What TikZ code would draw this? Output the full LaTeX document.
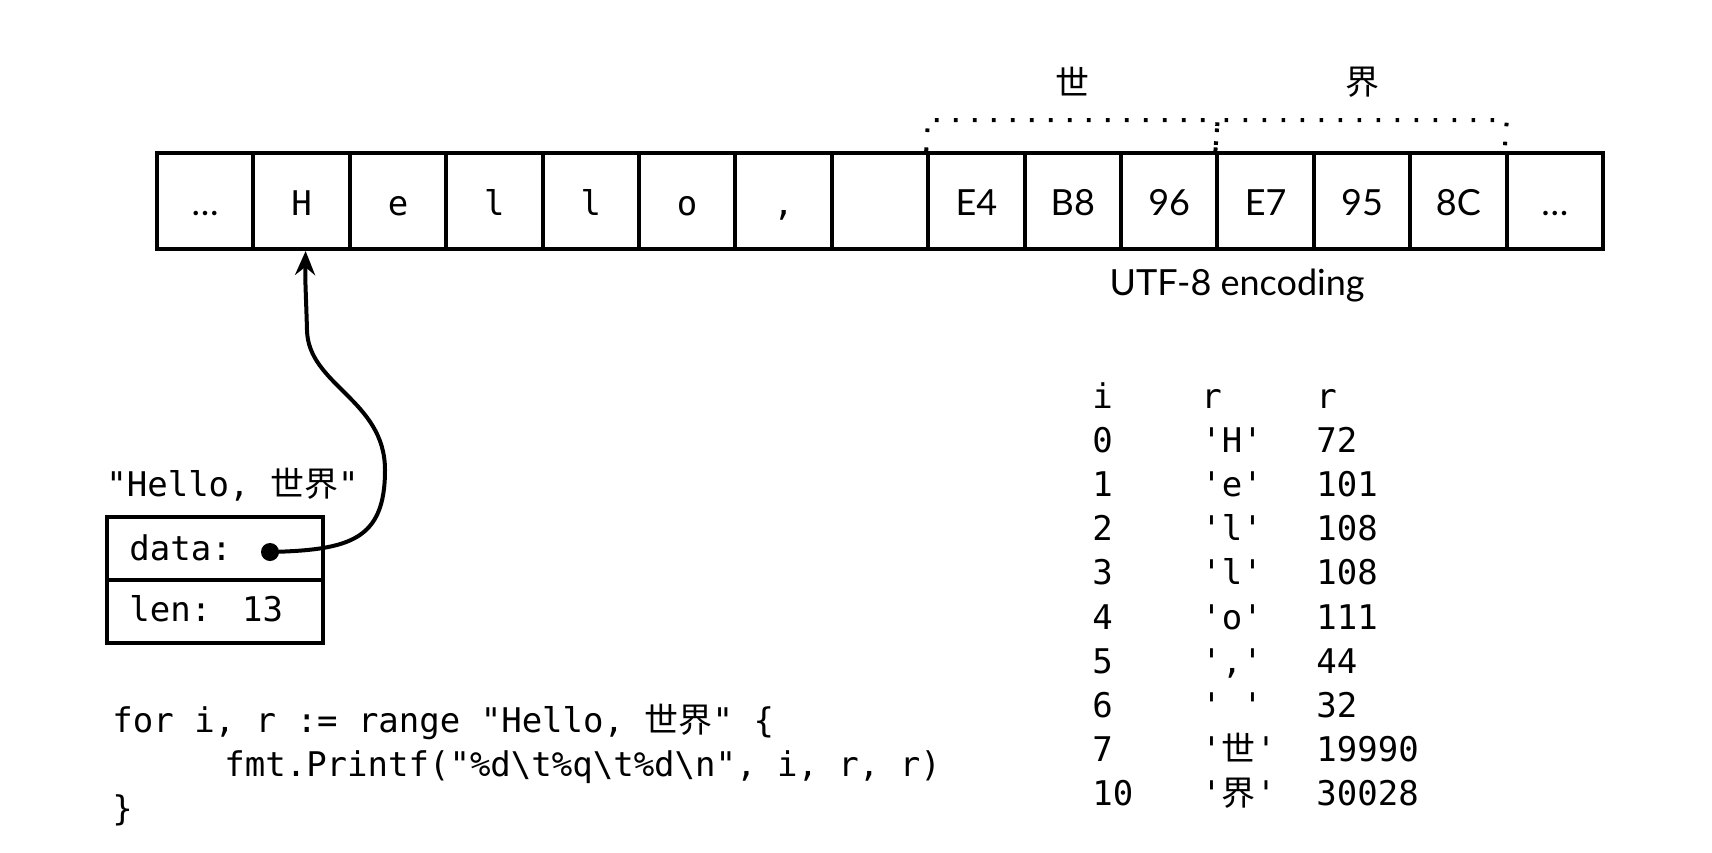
\documentclass[tikz,border=0pt]{standalone}
\usepackage{fontspec}
\setmainfont{Lato}
\setmonofont{DejaVu Sans Mono}
\newfontfamily\cjk{Noto Sans CJK SC}
\usetikzlibrary{arrows.meta}
\begin{document}
\frenchspacing
\begin{tikzpicture}[x=0.5pt,y=-0.5pt,
  mono/.style={font=\ttfamily\fontsize{17}{20}\selectfont, inner sep=0pt},
  sans/.style={font=\fontsize{18}{22}\selectfont, inner sep=0pt},
  cjkt/.style={font=\cjk\fontsize{17}{20}\selectfont, inner sep=0pt},
  cell/.style={draw, line width=2pt, minimum width=48.2pt, minimum height=48pt, inner sep=0pt},
  fieldbox/.style={draw, line width=2pt, minimum width=108pt, minimum height=31.5pt, inner sep=0pt},
  wire/.style={line width=2pt, -{Stealth[length=12pt,width=10pt,inset=4pt]}},
  bracketline/.style={line width=2pt, dash pattern=on 1.8pt off 7.7pt}
]
\useasboundingbox (0,0) rectangle (1712,852);
% cells
\foreach \i in {0,...,14}{
  \node[cell] (c\i) at (205.2+96.4*\i,201) {};
}
% cell labels
\node[sans,anchor=base] (l0) at (205.2,215) {…};
\node[mono,anchor=base] (l1) at (301.6,215) {H};
\node[mono,anchor=base] (l2) at (398.0,215) {e};
\node[mono,anchor=base] (l3) at (494.4,215) {l};
\node[mono,anchor=base] (l4) at (590.8,215) {l};
\node[mono,anchor=base] (l5) at (687.2,215) {o};
\node[mono,anchor=base] (l6) at (783.6,215) {,};
\node[sans,anchor=base] (l8) at (976.4,215) {E4};
\node[sans,anchor=base] (l9) at (1072.8,215) {B8};
\node[sans,anchor=base] (l10) at (1169.2,215) {96};
\node[sans,anchor=base] (l11) at (1265.6,215) {E7};
\node[sans,anchor=base] (l12) at (1362.0,215) {95};
\node[sans,anchor=base] (l13) at (1458.4,215) {8C};
\node[sans,anchor=base] (l14) at (1554.8,215) {…};
% brackets
\coordinate (b0) at (928,120);
\coordinate (b1) at (1217.6,120);
\coordinate (b2) at (1506.8,120);
\draw[bracketline] (c8.north west) -- (b0) -- (b1) -- (c11.north west);
\draw[bracketline] (c11.north west) -- (b1) -- (b2) -- (c14.north west);
\node[cjkt] (shi) at (1072.8,82) {世};
\node[cjkt] (jie) at (1362.0,82) {界};
\node[sans,anchor=base] (utf) at (1237,295) {UTF-8 encoding};
% string header
\node[mono,anchor=base west] (hdr) at (106,496) {"Hello, {\cjk 世界}"};
\node[fieldbox] (databox) at (215,548.5) {};
\node[fieldbox] (lenbox) at (215,611.5) {};
\node[mono,anchor=base west] (datat) at (129,560) {data:};
\node[mono,anchor=base west] (lent) at (129,621) {len:\hspace{15.5pt}13};
\node[circle, fill, minimum size=9pt, inner sep=0pt] (d) at (270,552) {};
\draw[wire] (d.center) .. controls (350,550) and (385,540) .. (385,470)
  .. controls (385,400) and (308,385) .. (307,330)
  .. controls (306,295) and (305,280) .. ([xshift=2pt]c1.south);
% code
\node[mono,anchor=base west] (code1) at (112,732) {for i, r := range "Hello, {\cjk 世界}" \{};
\node[mono,anchor=base west] (code2) at (224,776) {fmt.Printf("\%d\textbackslash t\%q\textbackslash t\%d\textbackslash n", i, r, r)};
\node[mono,anchor=base west] (code3) at (112,820) {\}};
% table
\foreach \a/\b/\c [count=\k from 0] in {i/r/r, 0/'H'/72, 1/'e'/101, 2/'l'/108, 3/'l'/108, 4/'o'/111, 5/{','}/44, 6/{'\ '}/32, 7/{'{\cjk 世}'}/19990, 10/{'{\cjk 界}'}/30028}{
  \node[mono,anchor=base west] (ta\k) at (1092,408+44.2*\k) {\a};
  \node[mono,anchor=base west] (tb\k) at (1201,408+44.2*\k) {\b};
  \node[mono,anchor=base west] (tc\k) at (1316,408+44.2*\k) {\c};
}
\end{tikzpicture}
\end{document}
